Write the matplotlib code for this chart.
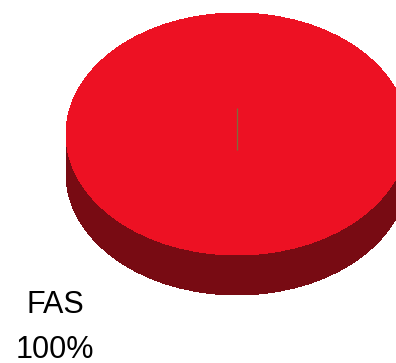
import matplotlib
matplotlib.use("Agg")
import matplotlib.pyplot as plt
import numpy as np

# Data
labels = ["FAS"]
values = [100]
pct_labels = ["100%"]
top_colors = ["#ED1123"]
side_colors = ["#780B13"]

W, H, DPI = 396, 363, 100
fig = plt.figure(figsize=(W / DPI, H / DPI), dpi=DPI)
ax = fig.add_axes([0, 0, 1, 1])

# pixel geometry of the 3D pie
cx_px, cy_px = 237, 134
rx_px, ry_px = 171, 121
depth_px = 40

depth = depth_px / ry_px
n_layers = 40
for k in range(n_layers, 0, -1):
    yoff = -depth * k / n_layers
    ax.pie(values, colors=side_colors, center=(0, yoff), radius=1,
           startangle=90, counterclock=False,
           wedgeprops=dict(linewidth=0, antialiased=False))
ax.pie(values, colors=top_colors, center=(0, 0), radius=1,
       startangle=90, counterclock=False,
       wedgeprops=dict(linewidth=0, antialiased=False))

# thin slice marker line at centre
ax.plot([0, 0], [(cy_px - 108) / ry_px, -(150 - cy_px) / ry_px],
        color="#7F6A3C", linewidth=0.9, solid_capstyle="butt")

ax.set_aspect("auto")
ax.set_xlim(-cx_px / rx_px, (W - cx_px) / rx_px)
ax.set_ylim(-(H - cy_px) / ry_px, cy_px / ry_px)
ax.axis("off")

# labels
fig.text(55.5 / W, 1 - 313 / H, labels[0], ha="center", va="baseline",
         fontsize=22, family="Liberation Sans", color="black")
fig.text(54.5 / W, 1 - 358 / H, pct_labels[0], ha="center", va="baseline",
         fontsize=22, family="Liberation Sans", color="black")

fig.savefig("out.png", dpi=DPI)
